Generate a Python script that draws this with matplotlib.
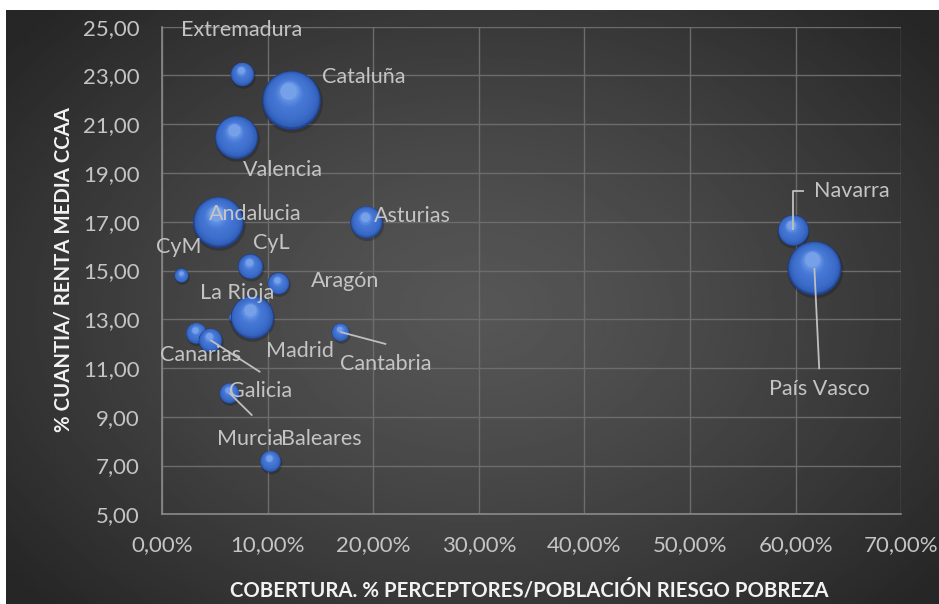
import numpy as np
import matplotlib
matplotlib.use("Agg")
import matplotlib.pyplot as plt
from matplotlib.colors import LinearSegmentedColormap
from matplotlib.transforms import offset_copy
from matplotlib.ticker import FuncFormatter, FixedLocator

plt.rcParams['font.family'] = ['Lato', 'DejaVu Sans']

# datos por comunidad
regiones = ['Extremadura', 'Cataluña', 'Valencia', 'Andalucia', 'Asturias', 'CyM', 'CyL',
            'Aragón', 'La Rioja', 'Madrid', 'Canarias', 'Galicia', 'Murcia', 'Baleares',
            'Cantabria', 'Navarra', 'País Vasco']
cobertura = [7.60, 12.24, 6.99, 5.33, 19.34, 1.83, 8.36,
             11.01, 6.70, 8.50, 3.25, 4.57, 6.37, 10.25,
             16.88, 59.72, 61.77]
cuantia = [23.06, 21.99, 20.47, 16.99, 16.99, 14.80, 15.17,
           14.47, 13.09, 13.09, 12.44, 12.15, 9.98, 7.19,
           12.48, 16.66, 15.10]
tamano = [14, 87, 47, 65, 26, 5, 16,
          12, 2, 47, 11, 14, 10, 11,
          8, 24, 73]

x_ticks = np.arange(0, 71, 10)
y_ticks = np.arange(5, 26, 2)

# posiciones de las etiquetas (coordenadas de datos)
label_pos = {
    'Extremadura': (7.51, 24.86), 'Cataluña': (19.06, 22.94), 'Valencia': (11.49, 19.12),
    'Andalucia': (8.84, 17.32), 'Asturias': (23.70, 17.24), 'CyM': (1.54, 15.97),
    'CyL': (10.35, 16.14), 'Aragón': (17.36, 14.57), 'La Rioja': (7.13, 14.08),
    'Madrid': (13.10, 11.70), 'Canarias': (3.63, 11.53), 'Galicia': (9.31, 10.06),
    'Murcia': (8.36, 8.09), 'Baleares': (15.08, 8.09), 'Cantabria': (21.14, 11.17),
    'Navarra': (65.29, 18.25), 'País Vasco': (62.26, 10.13),
}
# lineas guia
leaders = {
    'Navarra': [(59.72, 18.26), (60.81, 18.26)],
    'País Vasco': [(62.23, 10.95)],
    'Cantabria': [(21.23, 11.98)],
    'Galicia': [(9.31, 10.83)],
    'Murcia': [(8.55, 9.05)],
}

W, H = 939, 604
fig = plt.figure(figsize=(W / 100, H / 100), dpi=100, facecolor='white')

# fondo degradado
bg = fig.add_axes([6 / W, 0, 1 - 6 / W, 594 / H])
gx, gy = np.meshgrid(np.linspace(0, 933, 400), np.linspace(0, 594, 260))
rr = np.sqrt(((gx - 470) / 600) ** 2 + ((gy - 300) / 430) ** 2)
shade = 0x56 - (0x56 - 0x26) * np.clip(rr, 0, 1) ** 1.3
bg.imshow(shade, cmap='gray', vmin=0, vmax=255, aspect='auto', interpolation='bilinear')
bg.set_axis_off()

ax = fig.add_axes([162 / W, 89.7 / H, 739.3 / W, 487.6 / H])
ax.patch.set_alpha(0)
ax.set_xlim(0, 70)
ax.set_ylim(5, 25)
ax.xaxis.set_major_locator(FixedLocator(x_ticks))
ax.yaxis.set_major_locator(FixedLocator(y_ticks))
ax.xaxis.set_major_formatter(FuncFormatter(lambda v, _: f"{v:.2f}".replace('.', ',') + '%'))
ax.yaxis.set_major_formatter(FuncFormatter(lambda v, _: f"{v:.2f}".replace('.', ',')))
ax.tick_params(length=0, labelsize=16, colors='#c4c4c4')
ax.tick_params(axis='y', pad=16)
ax.tick_params(axis='x', pad=15)
ax.grid(True, color='#6c6c6c', lw=1.0)
ax.set_axisbelow(True)
for s in ['top', 'right']:
    ax.spines[s].set_visible(False)
for s in ['left', 'bottom']:
    ax.spines[s].set_color('#8a8a8a')
    ax.spines[s].set_linewidth(1.2)

sphere = LinearSegmentedColormap.from_list('sphere', [
    (0.0, '#1f3a80'), (0.1, '#3160b8'), (0.3, '#3d6dcb'),
    (0.7, '#4879d6'), (0.9, '#6090e2'), (1.0, '#80a9ec')])

N = 30
for x, y, v in zip(cobertura, cuantia, tamano):
    R = 2.28 * np.sqrt(v)
    ax.scatter([x], [y], s=(2 * R * 1.03) ** 2, color='black', alpha=0.2, lw=0, zorder=2,
               transform=offset_copy(ax.transData, fig, 0.5, -1.2, units='points'))
    for k in range(N):
        t = k / N
        r = R * (1 - 0.75 * t)
        ax.scatter([x], [y], s=(2 * r) ** 2, color=sphere(t), lw=0, zorder=3,
                   transform=offset_copy(ax.transData, fig, -0.1 * R * t, 0.33 * R * t,
                                         units='points'))

for name, pts in leaders.items():
    i = regiones.index(name)
    xs = [cobertura[i]] + [p[0] for p in pts]
    ys = [cuantia[i]] + [p[1] for p in pts]
    ax.plot(xs, ys, color='#bfbfbf', lw=1.3, zorder=4, solid_capstyle='butt')

for name in regiones:
    lx, ly = label_pos[name]
    ax.text(lx, ly, name, ha='center', va='center', color='#c4c4c4', fontsize=15.5, zorder=5)

fig.text(529 / W, 1 - 590 / H, 'COBERTURA. % PERCEPTORES/POBLACIÓN RIESGO POBREZA',
         ha='center', va='center', color='#f2f2f2', fontsize=14.7, fontweight='bold')
fig.text(64 / W, 1 - 270 / H, '% CUANTIA/ RENTA MEDIA CCAA', rotation=90,
         ha='center', va='center', color='#f2f2f2', fontsize=14.7, fontweight='bold')

fig.savefig('out.png', dpi=100, facecolor='white')
